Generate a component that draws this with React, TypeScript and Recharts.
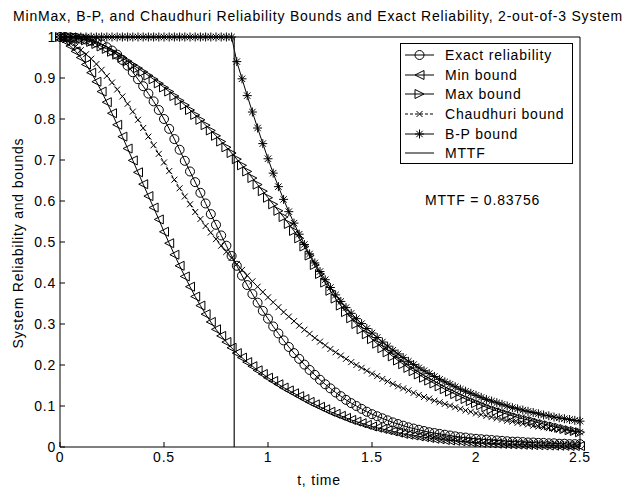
import { LineChart, Line, XAxis, YAxis, ReferenceLine, Legend } from 'recharts';

// sample times, every 0.025
const TIME = [
  0, 0.025, 0.05, 0.075, 0.1, 0.125, 0.15, 0.175, 0.2, 0.225,
  0.25, 0.275, 0.3, 0.325, 0.35, 0.375, 0.4, 0.425, 0.45, 0.475,
  0.5, 0.525, 0.55, 0.575, 0.6, 0.625, 0.65, 0.675, 0.7, 0.725,
  0.75, 0.775, 0.8, 0.825, 0.85, 0.875, 0.9, 0.925, 0.95, 0.975,
  1, 1.025, 1.05, 1.075, 1.1, 1.125, 1.15, 1.175, 1.2, 1.225,
  1.25, 1.275, 1.3, 1.325, 1.35, 1.375, 1.4, 1.425, 1.45, 1.475,
  1.5, 1.525, 1.55, 1.575, 1.6, 1.625, 1.65, 1.675, 1.7, 1.725,
  1.75, 1.775, 1.8, 1.825, 1.85, 1.875, 1.9, 1.925, 1.95, 1.975,
  2, 2.025, 2.05, 2.075, 2.1, 2.125, 2.15, 2.175, 2.2, 2.225,
  2.25, 2.275, 2.3, 2.325, 2.35, 2.375, 2.4, 2.425, 2.45, 2.475,
  2.5,
];

const EXACT = [
  1.0, 1.0, 0.999, 0.998, 0.996, 0.994, 0.991, 0.987, 0.982, 0.975,
  0.967, 0.957, 0.944, 0.93, 0.914, 0.897, 0.88, 0.862, 0.843, 0.822,
  0.8, 0.776, 0.751, 0.725, 0.698, 0.672, 0.646, 0.62, 0.594, 0.568,
  0.542, 0.516, 0.491, 0.466, 0.442, 0.418, 0.395, 0.373, 0.352, 0.332,
  0.313, 0.294, 0.277, 0.26, 0.244, 0.229, 0.215, 0.201, 0.188, 0.176,
  0.164, 0.153, 0.143, 0.133, 0.124, 0.115, 0.107, 0.1, 0.093, 0.086,
  0.08, 0.075, 0.07, 0.065, 0.06, 0.056, 0.052, 0.048, 0.045, 0.042,
  0.039, 0.036, 0.034, 0.032, 0.03, 0.028, 0.026, 0.024, 0.023, 0.021,
  0.02, 0.019, 0.018, 0.017, 0.016, 0.015, 0.014, 0.013, 0.013, 0.012,
  0.011, 0.011, 0.01, 0.01, 0.009, 0.009, 0.008, 0.008, 0.007, 0.007,
  0.007,
];

const MIN_BOUND = [
  1.0, 0.99, 0.978, 0.965, 0.95, 0.933, 0.913, 0.891, 0.867, 0.841,
  0.814, 0.786, 0.757, 0.728, 0.699, 0.67, 0.641, 0.612, 0.584, 0.555,
  0.525, 0.497, 0.469, 0.442, 0.416, 0.391, 0.367, 0.345, 0.324, 0.305,
  0.287, 0.271, 0.256, 0.242, 0.229, 0.218, 0.207, 0.197, 0.187, 0.178,
  0.169, 0.161, 0.153, 0.145, 0.138, 0.131, 0.124, 0.117, 0.11, 0.104,
  0.098, 0.092, 0.086, 0.081, 0.076, 0.071, 0.066, 0.062, 0.058, 0.054,
  0.05, 0.047, 0.044, 0.041, 0.038, 0.035, 0.032, 0.03, 0.028, 0.026,
  0.024, 0.022, 0.02, 0.019, 0.017, 0.016, 0.015, 0.014, 0.013, 0.012,
  0.011, 0.01, 0.0095, 0.0088, 0.0081, 0.0075, 0.0069, 0.0064, 0.0059, 0.0054,
  0.005, 0.0046, 0.0043, 0.0039, 0.0036, 0.0033, 0.0031, 0.0028, 0.0026, 0.0024,
  0.0022,
];

const MAX_BOUND = [
  1.0, 1.0, 0.999, 0.998, 0.995, 0.992, 0.988, 0.983, 0.977, 0.971,
  0.964, 0.957, 0.949, 0.941, 0.932, 0.924, 0.915, 0.906, 0.897, 0.887,
  0.877, 0.867, 0.856, 0.845, 0.834, 0.822, 0.81, 0.798, 0.785, 0.772,
  0.759, 0.745, 0.731, 0.717, 0.702, 0.687, 0.672, 0.656, 0.64, 0.624,
  0.608, 0.592, 0.576, 0.561, 0.544, 0.527, 0.509, 0.489, 0.467, 0.444,
  0.422, 0.401, 0.381, 0.362, 0.345, 0.329, 0.314, 0.3, 0.287, 0.275,
  0.263, 0.252, 0.241, 0.231, 0.221, 0.211, 0.202, 0.193, 0.185, 0.177,
  0.169, 0.162, 0.155, 0.148, 0.141, 0.135, 0.129, 0.123, 0.117, 0.112,
  0.107, 0.102, 0.097, 0.092, 0.088, 0.084, 0.08, 0.076, 0.072, 0.069,
  0.066, 0.063, 0.059, 0.056, 0.053, 0.05, 0.047, 0.044, 0.041, 0.039,
  0.036,
];

const CHAUDHURI = [
  1.0, 0.993, 0.985, 0.977, 0.968, 0.958, 0.947, 0.934, 0.92, 0.905,
  0.889, 0.872, 0.855, 0.837, 0.818, 0.798, 0.778, 0.757, 0.736, 0.715,
  0.694, 0.673, 0.652, 0.631, 0.611, 0.592, 0.573, 0.556, 0.539, 0.523,
  0.507, 0.491, 0.476, 0.461, 0.446, 0.432, 0.418, 0.404, 0.391, 0.378,
  0.365, 0.353, 0.341, 0.329, 0.318, 0.307, 0.296, 0.286, 0.276, 0.266,
  0.257, 0.248, 0.239, 0.231, 0.223, 0.215, 0.207, 0.2, 0.193, 0.186,
  0.179, 0.173, 0.166, 0.16, 0.154, 0.148, 0.143, 0.138, 0.132, 0.127,
  0.122, 0.118, 0.113, 0.109, 0.105, 0.101, 0.097, 0.093, 0.089, 0.086,
  0.082, 0.079, 0.076, 0.073, 0.07, 0.067, 0.064, 0.062, 0.059, 0.057,
  0.055, 0.052, 0.05, 0.048, 0.046, 0.044, 0.042, 0.041, 0.039, 0.037,
  0.036,
];

const BP_BOUND = [
  1.0, 1.0, 1.0, 1.0, 1.0, 1.0, 1.0, 1.0, 1.0, 1.0,
  1.0, 1.0, 1.0, 1.0, 1.0, 1.0, 1.0, 1.0, 1.0, 1.0,
  1.0, 1.0, 1.0, 1.0, 1.0, 1.0, 1.0, 1.0, 1.0, 1.0,
  1.0, 1.0, 1.0, 1.0, 0.94, 0.898, 0.857, 0.817, 0.778, 0.74,
  0.703, 0.668, 0.635, 0.604, 0.574, 0.546, 0.519, 0.494, 0.471, 0.449,
  0.428, 0.408, 0.389, 0.371, 0.355, 0.34, 0.326, 0.313, 0.301, 0.289,
  0.278, 0.267, 0.256, 0.246, 0.236, 0.227, 0.218, 0.209, 0.201, 0.193,
  0.186, 0.179, 0.172, 0.165, 0.159, 0.153, 0.147, 0.141, 0.136, 0.131,
  0.126, 0.121, 0.116, 0.112, 0.108, 0.104, 0.1, 0.096, 0.093, 0.09,
  0.087, 0.084, 0.081, 0.078, 0.076, 0.073, 0.071, 0.069, 0.067, 0.065,
  0.063,
];

const MTTF = 0.83756;

const X_TICKS = [0, 0.5, 1, 1.5, 2, 2.5];
const Y_TICKS = [0, 0.1, 0.2, 0.3, 0.4, 0.5, 0.6, 0.7, 0.8, 0.9, 1];

const FONT = '"Liberation Sans", Arial, Helvetica, sans-serif';
const SPACING = 0.8;

const data = TIME.map((t, i) => ({
  t,
  exact: EXACT[i],
  min: MIN_BOUND[i],
  max: MAX_BOUND[i],
  chaud: CHAUDHURI[i],
  bp: BP_BOUND[i],
}));

type MarkerKind = 'circle' | 'left' | 'right' | 'cross' | 'star' | 'none';

function MarkerShape({ kind, cx, cy }: { kind: MarkerKind; cx: number; cy: number }) {
  const s = 4.5;
  switch (kind) {
    case 'circle':
      return <circle cx={cx} cy={cy} r={4.5} fill="none" stroke="#000" strokeWidth={1} />;
    case 'left':
      return (
        <polygon
          points={`${cx - s},${cy} ${cx + s},${cy - s} ${cx + s},${cy + s}`}
          fill="none"
          stroke="#000"
          strokeWidth={1}
        />
      );
    case 'right':
      return (
        <polygon
          points={`${cx + s},${cy} ${cx - s},${cy - s} ${cx - s},${cy + s}`}
          fill="none"
          stroke="#000"
          strokeWidth={1}
        />
      );
    case 'cross':
      return (
        <path
          d={`M${cx - 3},${cy - 3}L${cx + 3},${cy + 3}M${cx - 3},${cy + 3}L${cx + 3},${cy - 3}`}
          stroke="#000"
          strokeWidth={1}
        />
      );
    case 'star':
      return (
        <path
          d={`M${cx - s},${cy}L${cx + s},${cy}M${cx},${cy - s}L${cx},${cy + s}M${cx - 3.2},${cy - 3.2}L${cx + 3.2},${cy + 3.2}M${cx - 3.2},${cy + 3.2}L${cx + 3.2},${cy - 3.2}`}
          stroke="#000"
          strokeWidth={1}
        />
      );
    default:
      return null;
  }
}

function dotFor(kind: MarkerKind) {
  return (p: any) => {
    if (p.cx == null || p.cy == null) return <g key={`${kind}-${p.index}`} />;
    return (
      <g key={`${kind}-${p.index}`}>
        <MarkerShape kind={kind} cx={p.cx} cy={p.cy} />
      </g>
    );
  };
}

const LEGEND_ITEMS: { label: string; kind: MarkerKind; dash?: string }[] = [
  { label: 'Exact reliability', kind: 'circle' },
  { label: 'Min bound', kind: 'left' },
  { label: 'Max bound', kind: 'right' },
  { label: 'Chaudhuri bound', kind: 'cross', dash: '3 2' },
  { label: 'B-P bound', kind: 'star' },
  { label: 'MTTF', kind: 'none' },
];

function MatlabLegend() {
  return (
    <div
      style={{
        border: '1px solid #000',
        background: '#fff',
        paddingTop: 1,
        boxSizing: 'border-box',
        width: 173,
        height: 121,
        fontFamily: FONT,
        fontSize: 14,
        letterSpacing: SPACING,
        color: '#000',
      }}
    >
      {LEGEND_ITEMS.map((item) => (
        <div key={item.label} style={{ display: 'flex', alignItems: 'center', height: 19.7 }}>
          <svg width={44} height={14} style={{ flex: 'none' }}>
            <line x1={4} y1={7} x2={33} y2={7} stroke="#000" strokeWidth={1} strokeDasharray={item.dash} />
            <MarkerShape kind={item.kind} cx={18.5} cy={7} />
          </svg>
          <span style={{ whiteSpace: 'nowrap' }}>{item.label}</span>
        </div>
      ))}
    </div>
  );
}

const tickStyle = { fill: '#000', fontSize: 14, fontFamily: FONT, letterSpacing: SPACING };

const textStyle = {
  position: 'absolute' as const,
  fontSize: 14,
  letterSpacing: SPACING,
  lineHeight: '16px',
  whiteSpace: 'nowrap' as const,
};

export default function App() {
  return (
    <div
      style={{
        position: 'absolute',
        left: 0,
        top: 0,
        width: 636,
        height: 490,
        background: '#fff',
        fontFamily: FONT,
        color: '#000',
      }}
    >
      <LineChart
        width={636}
        height={490}
        data={data}
        margin={{ top: 32, right: 51, bottom: 23, left: 35 }}
      >
        <XAxis
          dataKey="t"
          type="number"
          domain={[0, 2.5]}
          ticks={X_TICKS}
          tick={tickStyle}
          tickSize={-5}
          tickMargin={10}
          height={20}
          axisLine={{ stroke: '#000' }}
          tickLine={{ stroke: '#000' }}
        />
        <XAxis
          xAxisId="top"
          orientation="top"
          type="number"
          domain={[0, 2.5]}
          ticks={X_TICKS}
          tick={false}
          tickSize={-5}
          height={5}
          axisLine={{ stroke: '#000' }}
          tickLine={{ stroke: '#000' }}
        />
        <YAxis
          type="number"
          domain={[0, 1]}
          ticks={Y_TICKS}
          tick={tickStyle}
          tickSize={-5}
          tickMargin={9}
          width={25}
          axisLine={{ stroke: '#000' }}
          tickLine={{ stroke: '#000' }}
        />
        <YAxis
          yAxisId="right"
          orientation="right"
          type="number"
          domain={[0, 1]}
          ticks={Y_TICKS}
          tick={false}
          tickSize={-5}
          width={5}
          axisLine={{ stroke: '#000' }}
          tickLine={{ stroke: '#000' }}
        />
        <Line
          dataKey="exact"
          stroke="#000"
          strokeWidth={1}
          dot={dotFor('circle')}
          activeDot={false}
          isAnimationActive={false}
        />
        <Line
          dataKey="min"
          stroke="#000"
          strokeWidth={1}
          dot={dotFor('left')}
          activeDot={false}
          isAnimationActive={false}
        />
        <Line
          dataKey="max"
          stroke="#000"
          strokeWidth={1}
          dot={dotFor('right')}
          activeDot={false}
          isAnimationActive={false}
        />
        <Line
          dataKey="chaud"
          stroke="#000"
          strokeWidth={1}
          strokeDasharray="3 2"
          dot={dotFor('cross')}
          activeDot={false}
          isAnimationActive={false}
        />
        <Line
          dataKey="bp"
          stroke="#000"
          strokeWidth={1}
          dot={dotFor('star')}
          activeDot={false}
          isAnimationActive={false}
        />
        <ReferenceLine x={MTTF} stroke="#222" strokeWidth={1.3} />
        <Legend
          layout="vertical"
          align="center"
          verticalAlign="middle"
          content={<MatlabLegend />}
          wrapperStyle={{ left: 400, top: 43, width: 173, height: 121 }}
        />
      </LineChart>

      <div style={{ ...textStyle, left: 0, top: 8, width: 636, textAlign: 'center' }}>
        MinMax, B-P, and Chaudhuri Reliability Bounds and Exact Reliability, 2-out-of-3 System
      </div>
      <div style={{ ...textStyle, left: 425, top: 192 }}>MTTF = 0.83756</div>
      <div style={{ ...textStyle, left: 0, top: 472, width: 638, textAlign: 'center' }}>t, time</div>
      <div
        style={{
          ...textStyle,
          left: 18,
          top: 243,
          transform: 'translate(-50%, -50%) rotate(-90deg)',
        }}
      >
        System Reliability and bounds
      </div>
    </div>
  );
}
